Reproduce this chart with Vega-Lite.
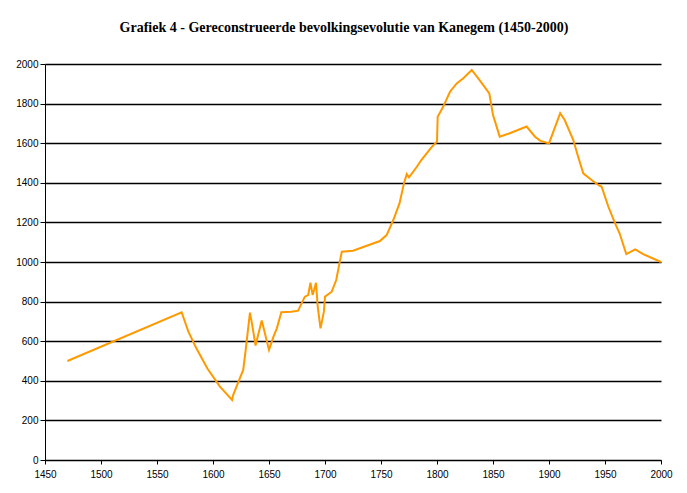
{
  "$schema": "https://vega.github.io/schema/vega-lite/v6.json",
  "width": 616,
  "height": 396,
  "autosize": "none",
  "padding": {"left": 45, "top": 64, "right": 26, "bottom": 33},
  "background": "white",
  "title": {
    "text": "Grafiek 4 - Gereconstrueerde bevolkingsevolutie van Kanegem (1450-2000)",
    "font": "Liberation Serif",
    "fontSize": 14,
    "fontWeight": "bold",
    "color": "black",
    "anchor": "middle",
    "dx": -9,
    "offset": 24
  },
  "config": {
    "view": {"stroke": null},
    "axis": {
      "labelFont": "Liberation Sans",
      "labelFontSize": 10,
      "labelColor": "black",
      "domainColor": "black",
      "tickColor": "black",
      "gridColor": "black",
      "gridOpacity": 1,
      "domainWidth": 1,
      "tickWidth": 1,
      "gridWidth": 1.3,
      "title": null
    }
  },
  "data": {
    "values": [
      {"year": 1470, "pop": 500},
      {"year": 1572, "pop": 746},
      {"year": 1578, "pop": 648},
      {"year": 1585, "pop": 566},
      {"year": 1595, "pop": 462},
      {"year": 1606, "pop": 372},
      {"year": 1617, "pop": 303},
      {"year": 1618, "pop": 328},
      {"year": 1624, "pop": 413},
      {"year": 1627, "pop": 455},
      {"year": 1629, "pop": 547},
      {"year": 1633, "pop": 744},
      {"year": 1634.5, "pop": 699},
      {"year": 1638, "pop": 578},
      {"year": 1643.5, "pop": 704},
      {"year": 1646, "pop": 648},
      {"year": 1650, "pop": 556},
      {"year": 1654, "pop": 623},
      {"year": 1657, "pop": 665},
      {"year": 1661, "pop": 746},
      {"year": 1670, "pop": 749},
      {"year": 1676, "pop": 754},
      {"year": 1682, "pop": 825},
      {"year": 1685, "pop": 833},
      {"year": 1687, "pop": 895},
      {"year": 1689, "pop": 833},
      {"year": 1692, "pop": 895},
      {"year": 1693.5, "pop": 774},
      {"year": 1696, "pop": 665},
      {"year": 1699, "pop": 749},
      {"year": 1700, "pop": 825},
      {"year": 1706, "pop": 850},
      {"year": 1710, "pop": 909},
      {"year": 1715, "pop": 1052},
      {"year": 1725, "pop": 1057},
      {"year": 1749, "pop": 1106},
      {"year": 1755, "pop": 1136},
      {"year": 1761, "pop": 1212},
      {"year": 1766.5, "pop": 1296},
      {"year": 1770.5, "pop": 1397},
      {"year": 1773, "pop": 1444},
      {"year": 1775, "pop": 1428},
      {"year": 1782, "pop": 1481},
      {"year": 1786, "pop": 1515},
      {"year": 1795, "pop": 1579},
      {"year": 1800, "pop": 1608},
      {"year": 1800.6, "pop": 1734},
      {"year": 1805.6, "pop": 1785},
      {"year": 1811.6, "pop": 1860},
      {"year": 1817.6, "pop": 1902},
      {"year": 1823.5, "pop": 1928},
      {"year": 1831, "pop": 1970},
      {"year": 1838, "pop": 1919},
      {"year": 1846.7, "pop": 1852},
      {"year": 1850, "pop": 1742},
      {"year": 1856, "pop": 1633},
      {"year": 1865, "pop": 1650},
      {"year": 1880, "pop": 1684},
      {"year": 1887.5, "pop": 1633},
      {"year": 1892, "pop": 1613},
      {"year": 1900, "pop": 1599},
      {"year": 1910, "pop": 1752},
      {"year": 1914, "pop": 1717},
      {"year": 1921.7, "pop": 1616},
      {"year": 1926, "pop": 1532},
      {"year": 1930.6, "pop": 1448},
      {"year": 1938, "pop": 1414},
      {"year": 1944, "pop": 1389},
      {"year": 1947, "pop": 1380},
      {"year": 1953, "pop": 1279},
      {"year": 1959, "pop": 1195},
      {"year": 1963, "pop": 1145},
      {"year": 1969, "pop": 1040},
      {"year": 1977, "pop": 1064},
      {"year": 1984, "pop": 1040},
      {"year": 2000, "pop": 1000}
    ]
  },
  "mark": {"type": "line", "color": "#FF9900", "strokeWidth": 2},
  "encoding": {
    "x": {
      "field": "year",
      "type": "quantitative",
      "scale": {"domain": [1450, 2000], "nice": false, "zero": false},
      "axis": {
        "values": [1450, 1500, 1550, 1600, 1650, 1700, 1750, 1800, 1850, 1900, 1950, 2000],
        "format": "d",
        "grid": false,
        "tickSize": 4,
        "labelPadding": 5,
        "labelFlush": false
      }
    },
    "y": {
      "field": "pop",
      "type": "quantitative",
      "scale": {"domain": [0, 2000], "nice": false},
      "axis": {
        "values": [0, 200, 400, 600, 800, 1000, 1200, 1400, 1600, 1800, 2000],
        "format": "d",
        "grid": true,
        "tickSize": 5,
        "labelPadding": 2,
        "labelFlush": false
      }
    }
  }
}
